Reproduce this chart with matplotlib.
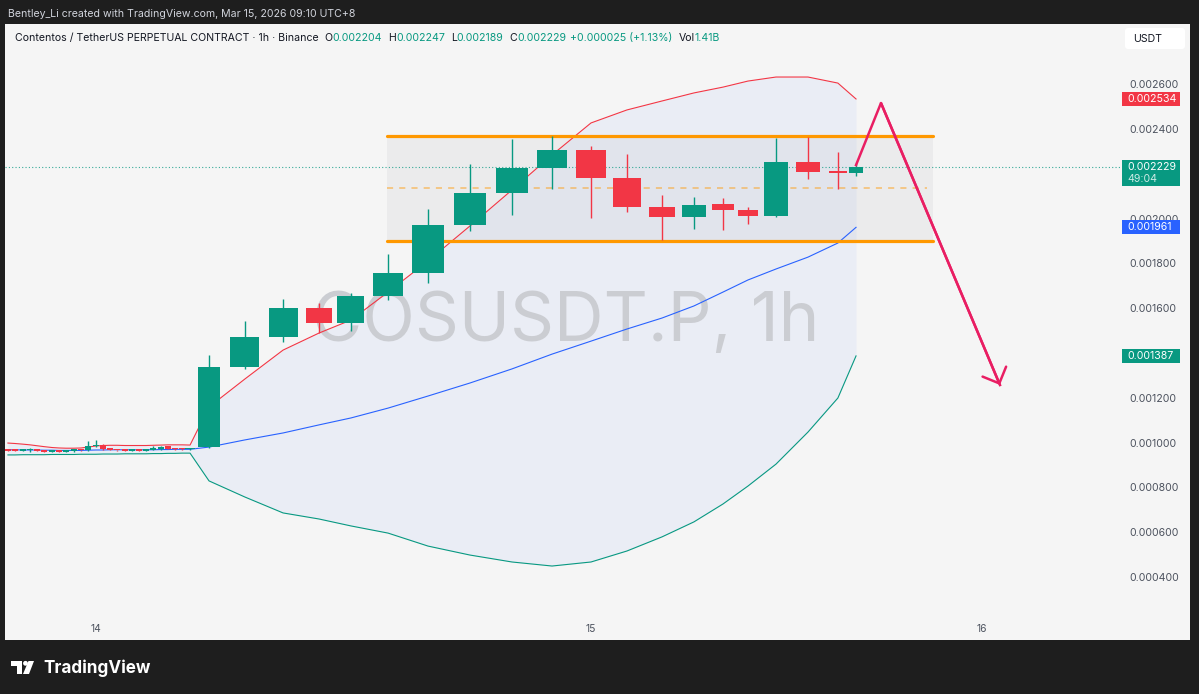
import numpy as np
import matplotlib.pyplot as plt
from matplotlib.patches import FancyBboxPatch, Rectangle, Polygon, Circle

W, H = 1199, 694
plt.rcParams['font.family'] = ['Inter', 'DejaVu Sans']

GREEN = '#089981'
RED = '#f23645'
BLUE = '#2962ff'
ORANGE = '#ff9800'
PINK = '#e91e63'
INK = '#131722'
AXIS_TXT = '#4c525e'

# ---- data ----
# bar position along the time axis, hours after Mar 14 00:00
bar_t = [-4.27, -3.93, -3.54, -3.20, -2.86, -2.52, -2.13, -1.79, -1.45, -1.07,
         -0.73, -0.39, 0.00, 0.34, 0.68, 1.02, 1.41, 1.75, 2.08, 2.42,
         2.76, 3.15, 3.49, 3.83, 4.17, 4.56,
         5.48, 7.22, 9.07, 10.81, 12.36, 14.16, 16.10, 18.13, 20.17, 22.11,
         24.00, 25.74, 27.44, 28.99, 30.40, 31.61, 32.97, 34.52, 35.97, 36.85]

opens = [0.000969, 0.000968, 0.000964, 0.000965, 0.000966, 0.000962, 0.000960, 0.000961, 0.000959, 0.000963,
         0.000967, 0.000966, 0.000984, 0.000989, 0.000971, 0.000967, 0.000965, 0.000963, 0.000966, 0.000964,
         0.000967, 0.000972, 0.000984, 0.000972, 0.000974, 0.000970,
         0.000980, 0.001337, 0.001471, 0.001601, 0.001534, 0.001654, 0.001757, 0.001971, 0.002114, 0.002226,
         0.002306, 0.002181, 0.002052, 0.002007, 0.002065, 0.002038, 0.002012, 0.002253, 0.002210, 0.002204]
highs = [0.000972, 0.000971, 0.000969, 0.000975, 0.000968, 0.000965, 0.000964, 0.000963, 0.000964, 0.000968,
         0.000969, 0.001005, 0.001010, 0.000992, 0.000973, 0.000969, 0.000967, 0.000968, 0.000968, 0.000970,
         0.000985, 0.000984, 0.000986, 0.000974, 0.000976, 0.000977,
         0.001391, 0.001543, 0.001641, 0.001623, 0.001668, 0.001842, 0.002043, 0.002244, 0.002355, 0.002369,
         0.002324, 0.002288, 0.002105, 0.002096, 0.002092, 0.002052, 0.002360, 0.002364, 0.002297, 0.002247]
lows = [0.000962, 0.000961, 0.000962, 0.000960, 0.000961, 0.000958, 0.000957, 0.000956, 0.000957, 0.000960,
        0.000963, 0.000964, 0.000980, 0.000969, 0.000965, 0.000963, 0.000961, 0.000961, 0.000962, 0.000962,
        0.000965, 0.000969, 0.000970, 0.000968, 0.000968, 0.000968,
        0.000976, 0.001330, 0.001449, 0.001489, 0.001498, 0.001637, 0.001712, 0.001945, 0.002016, 0.002132,
        0.002003, 0.002029, 0.001904, 0.001953, 0.001949, 0.001976, 0.002007, 0.002177, 0.002132, 0.002189]
closes = [0.000964, 0.000963, 0.000966, 0.000967, 0.000964, 0.000960, 0.000962, 0.000959, 0.000962, 0.000966,
          0.000965, 0.000985, 0.000990, 0.000972, 0.000967, 0.000965, 0.000963, 0.000966, 0.000964, 0.000967,
          0.000972, 0.000975, 0.000972, 0.000970, 0.000970, 0.000975,
          0.001337, 0.001471, 0.001601, 0.001534, 0.001654, 0.001757, 0.001971, 0.002114, 0.002226, 0.002306,
          0.002181, 0.002052, 0.002007, 0.002061, 0.002038, 0.002012, 0.002253, 0.002208, 0.002204, 0.002229]

# Bollinger bands
bb_upper = [0.000998, 0.000996, 0.000993, 0.000990, 0.000986, 0.000982, 0.000978, 0.000976, 0.000975, 0.000975,
            0.000976, 0.000980, 0.000985, 0.000987, 0.000988, 0.000988, 0.000987, 0.000987, 0.000987, 0.000987,
            0.000988, 0.000989, 0.000990, 0.000990, 0.000990, 0.000989,
            0.001159, 0.001284, 0.001413, 0.001489, 0.001547, 0.001672, 0.001811, 0.001967, 0.002128, 0.002284,
            0.002427, 0.002485, 0.002525, 0.002561, 0.002587, 0.002614, 0.002632, 0.002632, 0.002605, 0.002534]
bb_basis = [0.000968, 0.000968, 0.000967, 0.000967, 0.000967, 0.000966, 0.000966, 0.000965, 0.000965, 0.000965,
            0.000965, 0.000966, 0.000967, 0.000967, 0.000968, 0.000968, 0.000968, 0.000968, 0.000968, 0.000968,
            0.000968, 0.000969, 0.000969, 0.000970, 0.000970, 0.000970,
            0.000980, 0.001012, 0.001043, 0.001079, 0.001110, 0.001154, 0.001208, 0.001266, 0.001329, 0.001395,
            0.001453, 0.001507, 0.001556, 0.001610, 0.001672, 0.001726, 0.001775, 0.001828, 0.001891, 0.001961]
bb_lower = [0.000945, 0.000945, 0.000946, 0.000946, 0.000946, 0.000946, 0.000947, 0.000947, 0.000947, 0.000947,
            0.000948, 0.000948, 0.000948, 0.000949, 0.000949, 0.000949, 0.000950, 0.000950, 0.000950, 0.000950,
            0.000951, 0.000951, 0.000952, 0.000952, 0.000953, 0.000953,
            0.000829, 0.000757, 0.000686, 0.000659, 0.000628, 0.000596, 0.000538, 0.000498, 0.000467, 0.000449,
            0.000467, 0.000516, 0.000579, 0.000646, 0.000726, 0.000806, 0.000904, 0.001047, 0.001199, 0.001387]

# drawn range box and the arrow
range_top = 0.002369
range_bottom = 0.001900
range_t = [14.1, 40.6]
arrow_t = [36.85, 38.06, 43.83]
arrow_p = [0.002239, 0.002516, 0.001257]

# scale labels (0.001400 and 0.002200 sit under the price tags and are not shown)
price_ticks = [0.0004, 0.0006, 0.0008, 0.0010, 0.0012, 0.0016,
               0.0018, 0.0020, 0.0024, 0.0026]
day_t = [0, 24, 42.95]
day_labels = ['14', '15', '16']
volume_text = '1.41B'
countdown = '49:04'

# ---- screen geometry (pixels) ----
PX_PER_HOUR = 495 / 24.0
T0_PX = 96            # x of "14"
PX_PER_PRICE = 44.8 / 0.0002
P0, P0_PX = 0.0004, 577
AX_L, AX_R, AX_T, AX_B = 5, 1120, 50, 615

fig = plt.figure(figsize=(W / 100, H / 100), dpi=100)
fig.patch.set_facecolor('#1e1e1e')

bg = fig.add_axes([0, 0, 1, 1], zorder=-1)
bg.set_xlim(0, W)
bg.set_ylim(H, 0)
bg.axis('off')
bg.add_patch(Rectangle((5, 24), 1185, 616, fc='#f5f5f5', ec='none'))

ax = fig.add_axes([AX_L / W, 1 - AX_B / H, (AX_R - AX_L) / W, (AX_B - AX_T) / H])
ax.patch.set_alpha(0)
for s in ax.spines.values():
    s.set_visible(False)
ax.set_xlim((AX_L - T0_PX) / PX_PER_HOUR, (AX_R - T0_PX) / PX_PER_HOUR)
ax.set_ylim(P0 - (AX_B - P0_PX) / PX_PER_PRICE, P0 + (P0_PX - AX_T) / PX_PER_PRICE)

t = np.array(bar_t)
o, h, l, c = map(np.array, (opens, highs, lows, closes))

# bands
ax.fill_between(t, bb_lower, bb_upper, color=BLUE, alpha=0.05, lw=0, zorder=1)
ax.plot(t, bb_upper, color=RED, lw=0.8, zorder=2)
ax.plot(t, bb_basis, color=BLUE, lw=0.8, zorder=2)
ax.plot(t, bb_lower, color=GREEN, lw=0.8, zorder=2)

# range box
ax.add_patch(Rectangle((range_t[0], range_bottom), range_t[1] - range_t[0],
                       range_top - range_bottom, fc='#9598a1', alpha=0.1, lw=0, zorder=1.5))
ax.hlines([range_top, range_bottom], range_t[0], range_t[1], color=ORANGE, lw=2.3,
          capstyle='round', zorder=3)
ax.hlines((range_top + range_bottom) / 2, range_t[0], range_t[1] - 0.3, color=ORANGE,
          alpha=0.55, lw=1.1, linestyles=(0, (4, 4)), zorder=3)

# watermark
ax.text(566, 323, 'COSUSDT.P, 1h', transform=bg.transData, ha='center', va='center',
        fontsize=49.5, color='#cbcdd2', zorder=1.8, clip_on=False)

# last price line
ax.axhline(c[-1], color=GREEN, lw=0.8, ls=(0, (1, 2)), alpha=0.8, zorder=2.5)

# candles
widths = 0.78 * np.gradient(t)
up = c >= o
cols = np.where(up, GREEN, RED)
ax.vlines(t, l, h, colors=cols, lw=1, zorder=4)
body_lo = np.minimum(o, c)
body_h = np.maximum(np.abs(c - o), 1.6 / PX_PER_PRICE)
ax.bar(t, body_h, bottom=body_lo, width=widths, color=cols, lw=0, zorder=4.1)

# arrow
ax.plot(arrow_t, arrow_p, color=PINK, lw=1.8, zorder=5, solid_joinstyle='miter')
ax.annotate('', xy=(arrow_t[-1], arrow_p[-1]), xytext=(arrow_t[-2], arrow_p[-2]),
            arrowprops=dict(arrowstyle='->,head_length=0.4,head_width=0.4', color=PINK,
                            lw=1.8, mutation_scale=23, shrinkA=0, shrinkB=0), zorder=5)

# axes ticks
ax.yaxis.tick_right()
ax.set_yticks(price_ticks, [f'{p:.6f}' for p in price_ticks])
ax.set_xticks(day_t, day_labels)
ax.tick_params(axis='y', length=0, pad=6.5, labelsize=7.6, labelcolor=AXIS_TXT)
ax.tick_params(axis='x', length=0, pad=6.5, labelsize=7.4, labelcolor=AXIS_TXT)


# price tags on the scale
def px_to_axfrac(px):
    return (px - AX_L) / (AX_R - AX_L)


def tag(price, color, lines, top_off=7):
    tr = ax.get_yaxis_transform()
    hpx = 14 if len(lines) == 1 else 26
    y_top = price + top_off / PX_PER_PRICE
    ax.add_patch(Rectangle((px_to_axfrac(1122), y_top - hpx / PX_PER_PRICE),
                           px_to_axfrac(1180) - px_to_axfrac(1122), hpx / PX_PER_PRICE,
                           transform=tr, fc=color, ec='none', clip_on=False, zorder=10))
    for i, s in enumerate(lines):
        ax.text(px_to_axfrac(1127), price - 12 * i / PX_PER_PRICE, s, transform=tr,
                color='white', alpha=1 if i == 0 else 0.8, fontsize=7.6,
                va='center', ha='left', clip_on=False, zorder=11)


tag(bb_upper[-1], RED, [f'{bb_upper[-1]:.6f}'])
tag(c[-1], GREEN, [f'{c[-1]:.6f}', countdown])
tag(bb_basis[-1], BLUE, [f'{bb_basis[-1]:.6f}'])
tag(bb_lower[-1], GREEN, [f'{bb_lower[-1]:.6f}'])

# header texts
bg.text(8, 14, 'Bentley_Li created with TradingView.com, Mar 15, 2026 09:10 UTC+8',
        color='#d1d4dc', fontsize=7.6, va='center', ha='left')

chg = c[-1] - c[-2]
runs = [('Contentos / TetherUS PERPETUAL CONTRACT · 1h · Binance', INK, 0),
        ('O', INK, 6), (f'{o[-1]:.6f}', GREEN, 0),
        ('H', INK, 6), (f'{h[-1]:.6f}', GREEN, 0),
        ('L', INK, 6), (f'{l[-1]:.6f}', GREEN, 0),
        ('C', INK, 6), (f'{c[-1]:.6f}', GREEN, 0),
        (f'{chg:+.6f} ({chg / c[-2] * 100:+.2f}%)', GREEN, 4),
        ('Vol', INK, 6), (volume_text, GREEN, 0)]
r = fig.canvas.get_renderer()
x = 15
for s, col, gap in runs:
    x += gap
    tx = bg.text(x, 38, s, color=col, fontsize=7.6, va='center', ha='left')
    x += tx.get_window_extent(r).width

bg.add_patch(FancyBboxPatch((1125, 28), 60, 21, boxstyle='round,pad=0,rounding_size=3',
                            fc='white', ec='none'))
bg.text(1133, 39, 'USDT', color=INK, fontsize=7.6, va='center', ha='left')

# TradingView logo
bg.add_patch(Polygon([(11, 661), (22, 661), (22, 674), (17, 674), (17, 665.5), (11, 665.5)],
                     closed=True, fc='white', ec='none'))
bg.add_patch(Circle((25.5, 663.3), 2.4, fc='white', ec='none'))
bg.add_patch(Polygon([(28.5, 661), (34, 661), (29, 674), (23, 674)], closed=True,
                     fc='white', ec='none'))
bg.text(43, 668, 'TradingView', color='white', fontsize=12.3, fontweight='bold',
        va='center', ha='left')

fig.savefig('out.png', dpi=100, facecolor=fig.get_facecolor())
